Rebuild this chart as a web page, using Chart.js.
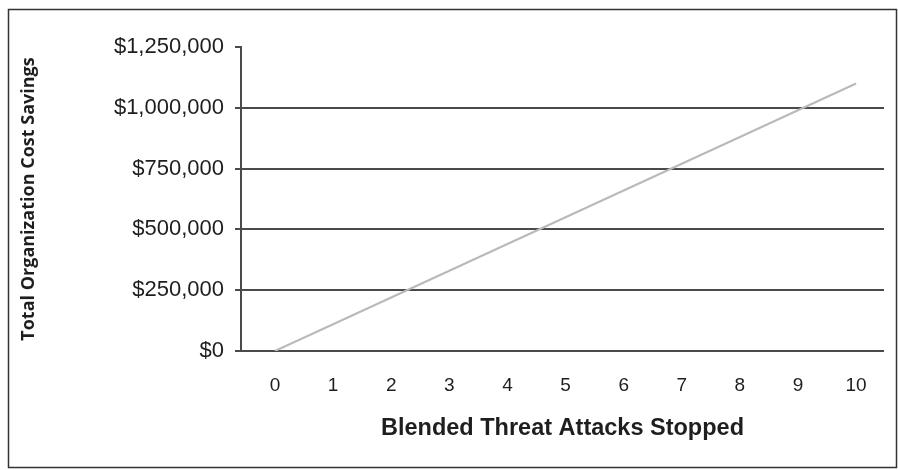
<!DOCTYPE html>
<html>
<head>
<meta charset="utf-8">
<script src="https://cdn.jsdelivr.net/npm/chart.js@4.4.1/dist/chart.umd.min.js"></script>
<style>
  html, body { margin: 0; padding: 0; background: #fff; }
  #wrap { width: 898px; height: 470px; position: relative; }
</style>
</head>
<body>
<div id="wrap"><canvas id="c" width="898" height="470"></canvas></div>
<script>
// Data
const attacksStopped = [0, 1, 2, 3, 4, 5, 6, 7, 8, 9, 10];
const costSavings = [0, 110000, 220000, 330000, 440000, 550000, 660000, 770000, 880000, 990000, 1100000];
const yTickValues = [0, 250000, 500000, 750000, 1000000, 1250000];
const xAxisTitle = 'Blended Threat Attacks Stopped';
const yAxisTitle = 'Total Organization Cost Savings';

const AXIS = '#4a4a4a';
const TEXT = '#1e1e1e';

const framePlugin = {
  id: 'frame',
  beforeDraw(chart) {
    const ctx = chart.ctx;
    ctx.save();
    ctx.fillStyle = '#ffffff';
    ctx.fillRect(0, 0, chart.width, chart.height);
    ctx.restore();
  },
  afterDraw(chart) {
    const ctx = chart.ctx;
    ctx.save();
    ctx.strokeStyle = '#333333';
    ctx.lineWidth = 1.5;
    ctx.strokeRect(8.5, 9.5, 888, 458);
    ctx.restore();
  }
};

new Chart(document.getElementById('c'), {
  type: 'line',
  data: {
    datasets: [{
      data: attacksStopped.map((x, i) => ({ x: x, y: costSavings[i] })),
      borderColor: '#b9b9b9',
      borderWidth: 2,
      pointRadius: 0,
      tension: 0,
      fill: false
    }]
  },
  options: {
    responsive: false,
    animation: false,
    devicePixelRatio: 1,
    layout: { padding: { left: 18, top: 47, right: 14, bottom: 0 } },
    plugins: { legend: { display: false }, tooltip: { enabled: false } },
    scales: {
      x: {
        type: 'linear',
        position: 'bottom',
        min: -0.585,
        max: 10.48,
        afterBuildTicks(scale) { scale.ticks = attacksStopped.map(v => ({ value: v })); },
        afterFit(scale) { scale.height = 470 - 351; },
        grid: { display: false, drawTicks: false },
        border: { display: false },
        ticks: {
          padding: 23,
          color: TEXT,
          font: { family: 'Liberation Sans, Arial, sans-serif', size: 19 },
          maxRotation: 0,
          callback: (v) => String(v)
        },
        title: {
          display: true,
          text: xAxisTitle,
          color: TEXT,
          font: { family: 'Liberation Sans, Arial, sans-serif', size: 23.5, weight: 'bold' },
          padding: { top: 0, bottom: 27 }
        }
      },
      y: {
        type: 'linear',
        position: 'left',
        min: 0,
        max: 1250000,
        afterBuildTicks(scale) { scale.ticks = yTickValues.map(v => ({ value: v })); },
        afterFit(scale) { scale.width = 241 - 18; },
        grid: {
          color: (c) => (c.tick && c.tick.value === 1250000) ? 'rgba(0,0,0,0)' : AXIS,
          lineWidth: 2,
          tickLength: 6,
          tickColor: AXIS,
          tickWidth: 2,
          drawTicks: true
        },
        border: { display: true, color: AXIS, width: 2 },
        ticks: {
          padding: 11,
          color: TEXT,
          font: { family: 'Liberation Sans, Arial, sans-serif', size: 22 },
          callback: (v) => '$' + Number(v).toLocaleString('en-US')
        },
        title: {
          display: true,
          text: yAxisTitle,
          color: TEXT,
          font: { family: 'Open Sans, sans-serif', size: 18, weight: 'bold' },
          padding: { top: 0, bottom: 0 }
        }
      }
    }
  },
  plugins: [framePlugin]
});
</script>
</body>
</html>
